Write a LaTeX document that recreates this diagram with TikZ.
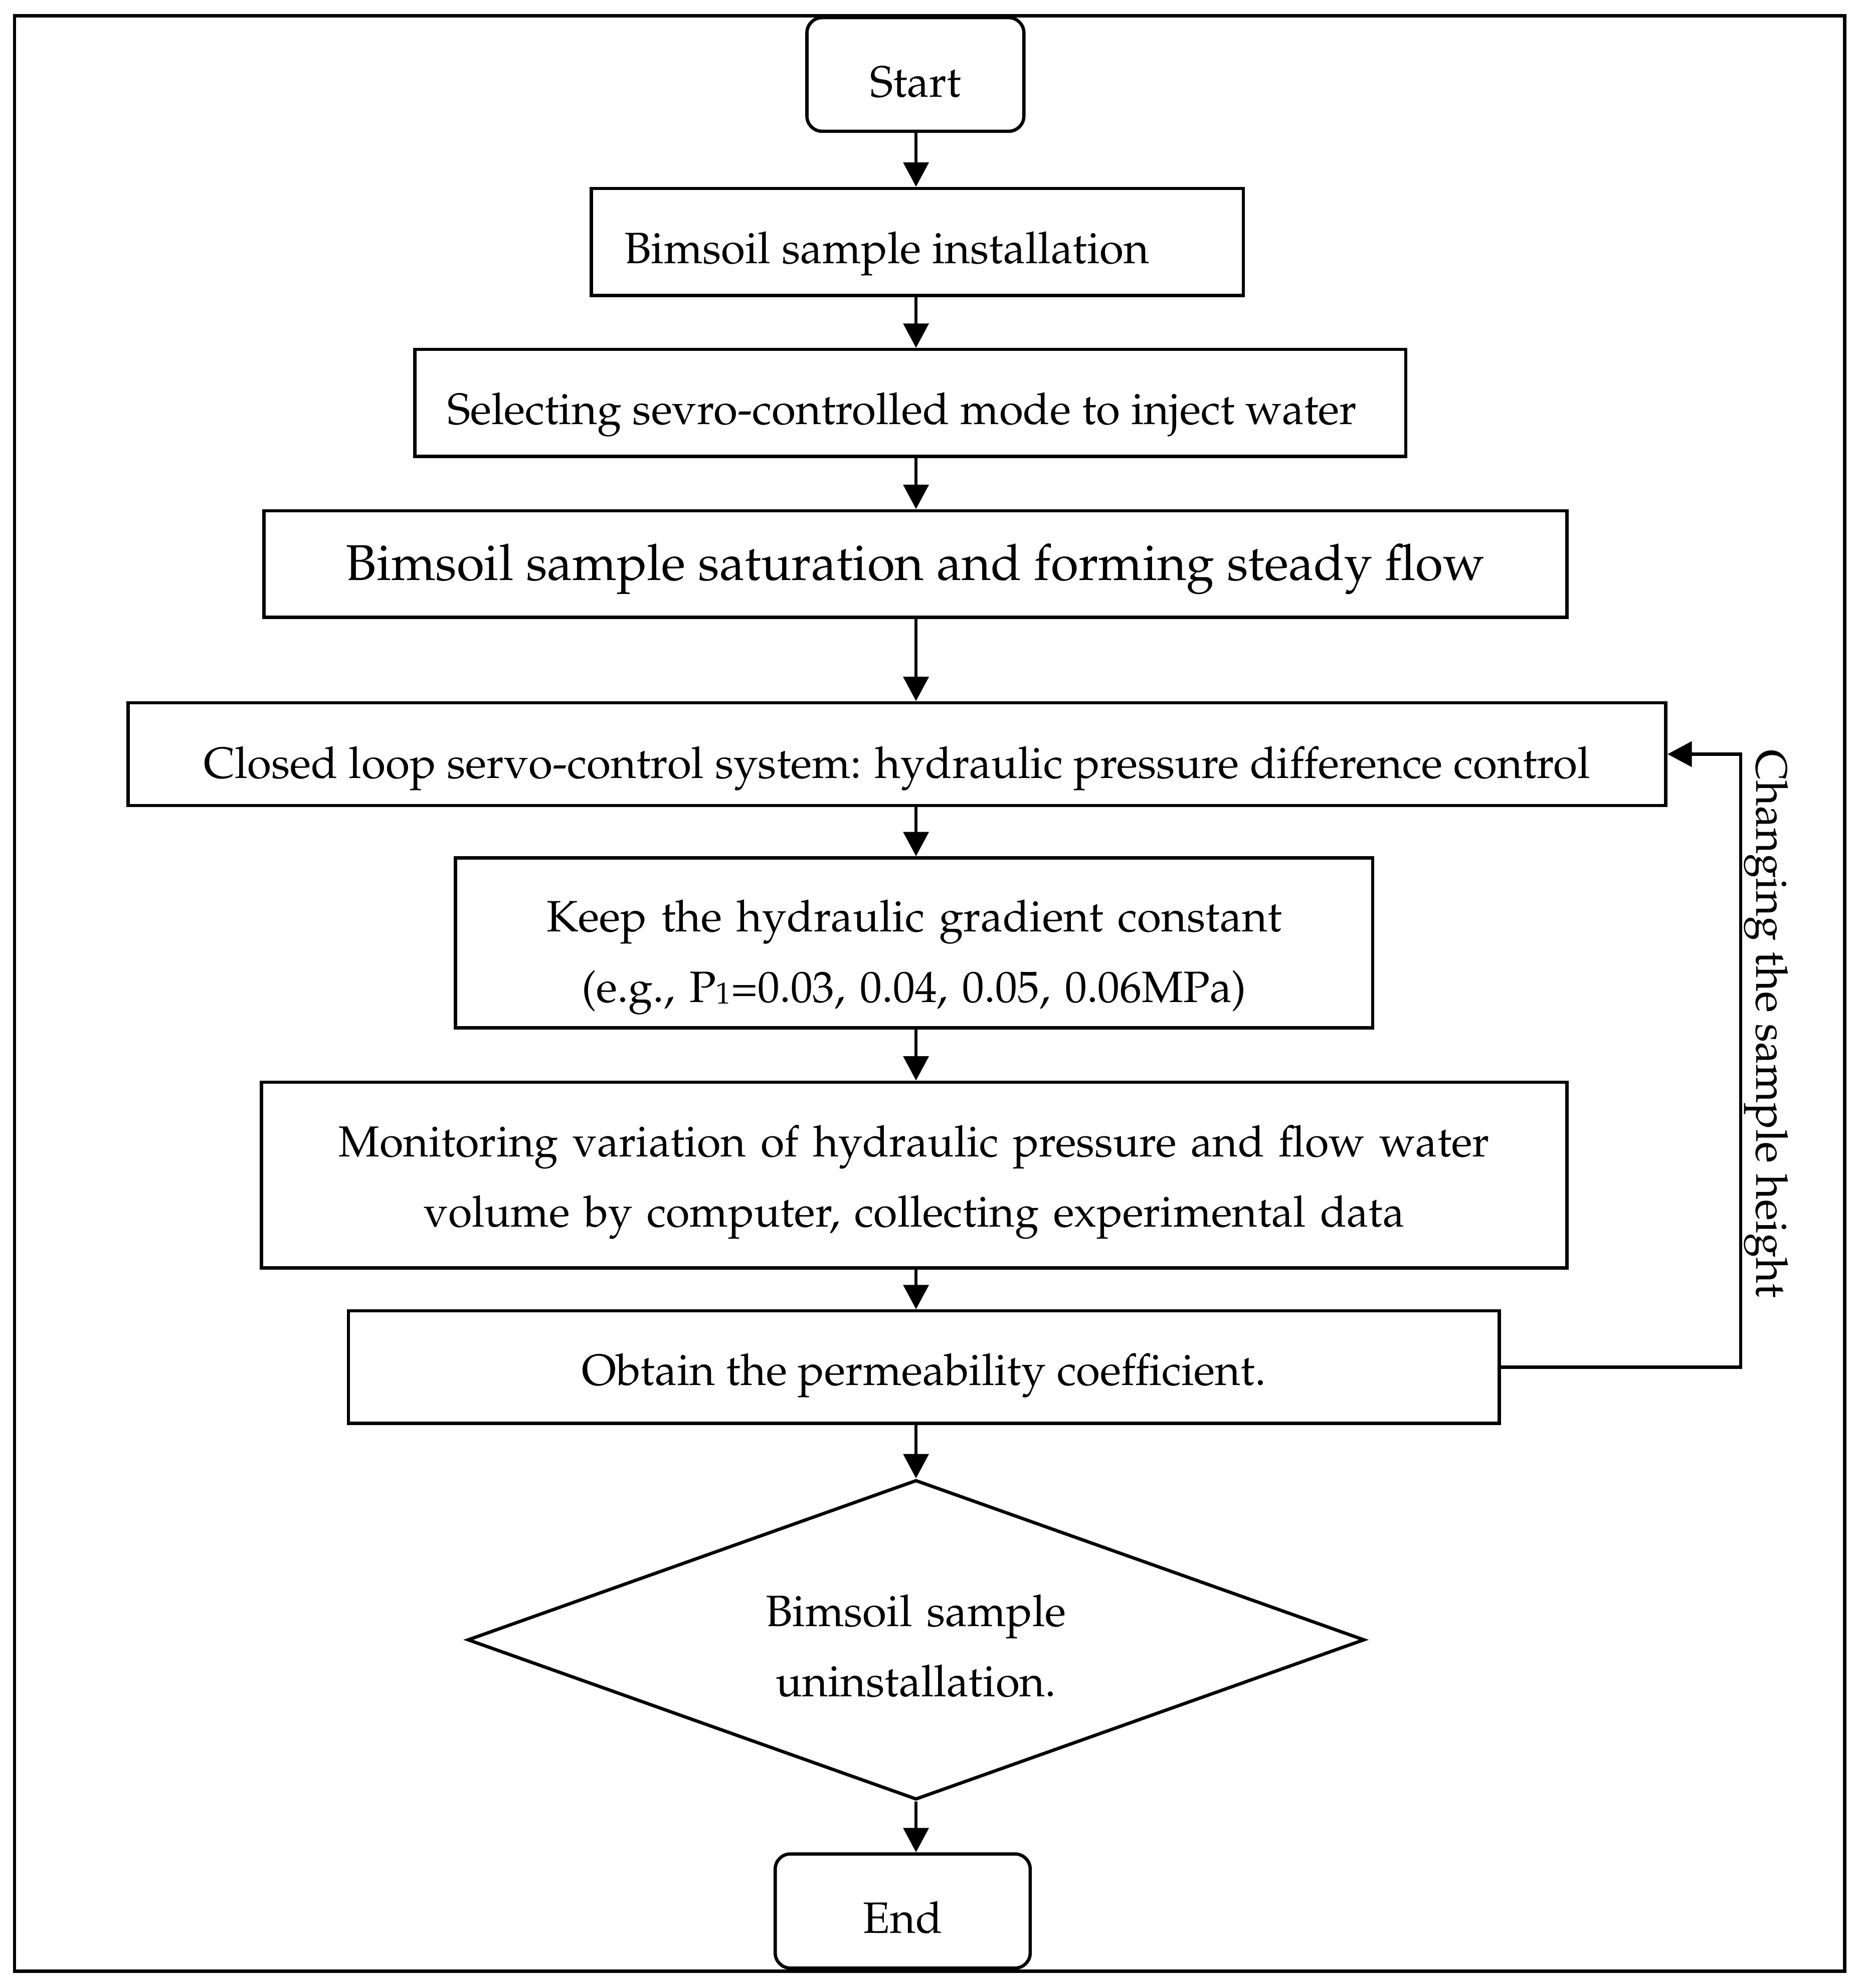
\documentclass[tikz,border=0pt]{standalone}
\usepackage[T1]{fontenc}
\usepackage{mathpazo}
\usetikzlibrary{arrows.meta,shapes.geometric}
\tikzset{
  lw/.style={line width=1.3pt},
  txt/.style={font=\fontsize{17.3}{28}\selectfont},
  box/.style={draw, lw, rectangle, inner sep=2pt, txt, text depth=0pt},
  arr/.style={lw, -{Triangle[length=9.6pt,width=9.9pt]}},
}
\begin{document}
\begin{tikzpicture}[x=0.5pt,y=-0.5pt]
\useasboundingbox (0,0) rectangle (1466,1567.2);
\draw[lw] (11.5,12.5) rectangle (1454,1554);
\coordinate (axis) at (722,0);
\coordinate (fbx) at (1372,0);

\node[box, rounded corners=6pt, minimum width=85.5pt, minimum height=44.8pt, text height=17.7pt] (start) at (721.5,58.7) {Start};
\node[box, minimum width=257pt, minimum height=42.2pt, text height=16.8pt] (b1) at (723,190.7) {Bimsoil sample installation\kern24pt};
\node[box, minimum width=390.5pt, minimum height=42.2pt, text height=16.8pt] (b2) at (717.5,317.7) {Selecting sevro-controlled mode to inject water\kern6.5pt};
\node[box, font=\fontsize{19.8}{24}\selectfont, minimum width=513.5pt, minimum height=42pt, text height=12.6pt] (b3) at (721.5,444.6) {Bimsoil sample saturation and forming steady flow};
\node[box, minimum width=606pt, minimum height=40.5pt, text height=19pt] (b4) at (707,594.5) {Closed loop servo-control system: hydraulic pressure difference control};
\node[box, align=center, text width=320pt, minimum width=361.5pt, minimum height=67pt, text height=0pt, text depth=9pt] (b5) at (720.5,743.3) {Keep the hydraulic gradient constant\\(e.g., P\raisebox{-0.5pt}{\fontsize{12}{12}\selectfont 1}=0.03, 0.04, 0.05, 0.06MPa)};
\node[box, align=center, text width=500pt, minimum width=514.5pt, minimum height=73.2pt, text height=0pt, text depth=14.4pt, font=\fontsize{17.1}{27.6}\selectfont] (b6) at (720.5,926.3) {Monitoring variation of hydraulic pressure and flow water\\volume by computer, collecting experimental data};
\node[box, minimum width=453.5pt, minimum height=44.3pt, text height=14.2pt] (b7) at (728.2,1077.7) {Obtain the permeability coefficient.};
\node[draw, lw, diamond, aspect=2.8, inner sep=0pt, minimum width=353.5pt, minimum height=126pt, align=center, text width=150pt, text height=0pt, text depth=10.6pt, font=\fontsize{17.3}{27.7}\selectfont] (dia) at (722,1292.7) {Bimsoil sample\\uninstallation.};
\node[box, rounded corners=6pt, minimum width=100.5pt, minimum height=45pt, text height=17.5pt] (end) at (711.5,1506.5) {End};

\node[txt, rotate=-90, inner sep=0pt] (lbl) at (1392,807) {Changing the sample height};

\draw[arr] (start.south -| axis) -- (b1.north -| axis);
\draw[arr] (b1.south -| axis) -- (b2.north -| axis);
\draw[arr] (b2.south -| axis) -- (b3.north -| axis);
\draw[arr] (b3.south -| axis) -- (b4.north -| axis);
\draw[arr] (b4.south -| axis) -- (b5.north -| axis);
\draw[arr] (b5.south -| axis) -- (b6.north -| axis);
\draw[arr] (b6.south -| axis) -- (b7.north -| axis);
\draw[arr] (b7.south -| axis) -- (dia.north);
\draw[arr] (dia.south) -- (end.north -| axis);
\draw[arr] (b7.east) -- (b7.east -| fbx) -- (fbx |- b4.east) -- (b4.east);
\end{tikzpicture}
\end{document}
